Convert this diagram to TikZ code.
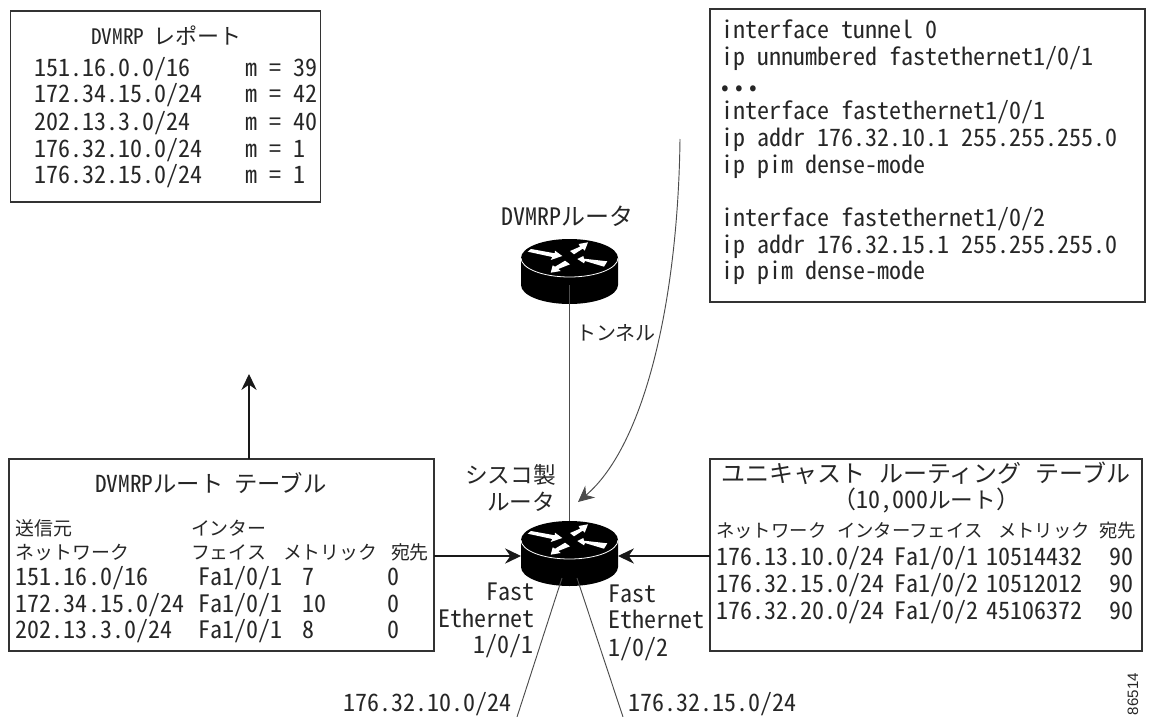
\documentclass[tikz,border=0pt]{standalone}
\usepackage{fontspec}
\usetikzlibrary{arrows.meta}
\newfontfamily\jpf{Noto Sans CJK JP}
\newfontfamily\hwf[RawFeature=+hwid]{Noto Sans CJK JP}
\newfontfamily\numf{Liberation Sans}
\newcommand{\J}[1]{{\jpf #1}}
\tikzset{
  x=0.75pt,y=-0.75pt,
  box/.style={draw=black!80,line width=1.1pt,inner sep=0pt,outer sep=0pt},
  lbl/.style={anchor=base west,inner sep=0pt,outer sep=0pt,font=\fontsize{18}{20}\hwf,text=black!85},
  rlbl/.style={lbl,anchor=base east},
  ttl/.style={lbl,font=\fontsize{17.5}{20}\hwf},
  sm/.style={lbl,font=\fontsize{14.2}{16}\jpf},
  smb/.style={lbl,font=\fontsize{13.8}{16}\jpf},
  conn/.style={draw=black!70,line width=0.7pt},
  arr/.style={draw=black!90,line width=0.8pt,-{Stealth[length=12pt,width=11.5pt,inset=4pt]}},
  routerbox/.style={inner sep=0pt,outer sep=0pt,minimum width=72.75pt,minimum height=48.75pt},
}
% #1 = name, #2 = x centre, #3 = y centre of the top ellipse
\newcommand{\router}[3]{%
  \begin{scope}[shift={(#2,#3)}]
  \fill[black] (-48.5,0) -- (-48.5,27) arc[x radius=48.5,y radius=-19,start angle=180,end angle=360] -- (48.5,0) -- cycle;
  \fill[black] (0,0) ellipse[x radius=48.5,y radius=19];
  \draw[white,line width=0.6pt] (-48.5,0) arc[x radius=48.5,y radius=-19,start angle=180,end angle=360];
  \fill[white] (-38.5,-9) -- (-14.8,-4.7) -- (-14.5,-7.3) -- (-7.2,-2) -- (-18.8,2) -- (-17.2,-1) -- (-41.8,-6.3) -- cycle;
  \fill[white] (18.5,-15.7) -- (9.2,-14) -- (10.5,-11.3) -- (.5,-7) -- (4.5,-3.7) -- (13.2,-9.3) -- (15.2,-7.3) -- cycle;
  \fill[white] (7.8,1) -- (13.8,-2) -- (14.5,.7) -- (37.8,3.3) -- (34.5,8.7) -- (15.5,3) -- (14.5,5.3) -- cycle;
  \fill[white] (-18.8,14.7) -- (-16.8,7.3) -- (-14.5,8.7) -- (-4.5,2.7) -- (.5,6.3) -- (-11.2,11) -- (-8.8,13) -- cycle;
  \node[routerbox] (#1) at (0,13.5) {};
  \end{scope}}
\begin{document}
\begin{tikzpicture}
\useasboundingbox[fill=white] (0,0) rectangle (1149,717);
\router{dvr}{569.5}{258}
\router{cis}{569.5}{540}
% boxes
\node[box,minimum width=232.5pt,minimum height=143.25pt] (report) at (165.5,106.5) {};
\node[box,minimum width=326.25pt,minimum height=219.75pt] (config) at (927.5,155.5) {};
\node[box,minimum width=318.75pt,minimum height=144pt] (rtbl) at (221.5,555) {};
\node[box,minimum width=324pt,minimum height=144pt] (utbl) at (926,555) {};
% connector ends
\coordinate (bl) at (rtbl.east |- 0,556);
\coordinate (l1) at (cis.west |- bl);
\coordinate (br) at (utbl.west |- 0,556);
\coordinate (r1) at (cis.east |- br);
\coordinate (up0) at (249,459);
\coordinate (up1) at (249,374);
\coordinate (c0) at (680,139);
\coordinate (c1) at (578,502);
\coordinate (e1) at (562,578);
\coordinate (e1b) at (517,717);
\coordinate (e2) at (577,578);
\coordinate (e2b) at (623,717);
\coordinate (dvb) at (569.5,285);
\draw[conn] (dvb) -- (cis.north);
\draw[arr] (bl) -- (l1);
\draw[arr] (br) -- (r1);
\draw[arr] (up0) -- (up1);
\draw[conn,-{Stealth[length=12pt,width=11.5pt,inset=4pt]}] (c0) .. controls (678,300) and (645,445) .. (c1);
\draw[conn] (e1) -- (e1b);
\draw[conn] (e2) -- (e2b);
% report
\node[lbl,font=\fontsize{16}{20}\hwf] (r0) at (91,45) {DVMRP\hspace{7pt}{\jpf\fontsize{16.5}{20}\selectfont レポート}};
\node[lbl] (r1a) at (34,77) {151.16.0.0/16}; \node[lbl] (r1b) at (245,77) {m = 39};
\node[lbl] (r2a) at (34,103) {172.34.15.0/24}; \node[lbl] (r2b) at (245,103) {m = 42};
\node[lbl] (r3a) at (34,130) {202.13.3.0/24}; \node[lbl] (r3b) at (245,130) {m = 40};
\node[lbl] (r4a) at (34,157) {176.32.10.0/24}; \node[lbl] (r4b) at (245,157) {m = 1};
\node[lbl] (r5a) at (34,183) {176.32.15.0/24}; \node[lbl] (r5b) at (245,183) {m = 1};
% config
\node[lbl] (c1t) at (721,39) {interface tunnel 0};
\node[lbl] (c2t) at (721,66) {ip unnumbered fastethernet1/0/1};
\node[lbl,font=\fontsize{17}{18}\jpf] (c3t) at (718.7,95) {\makebox[10.5pt]{•}\makebox[10.5pt]{•}\makebox[10.5pt]{•}};
\node[lbl] (c4t) at (721,119) {interface fastethernet1/0/1};
\node[lbl] (c5t) at (721,146) {ip addr 176.32.10.1 255.255.255.0};
\node[lbl] (c6t) at (721,173) {ip pim dense-mode};
\node[lbl] (c7t) at (721,226) {interface fastethernet1/0/2};
\node[lbl] (c8t) at (721,253) {ip addr 176.32.15.1 255.255.255.0};
\node[lbl] (c9t) at (721,279) {ip pim dense-mode};
% router labels
\node[lbl] (dvl) at (501,225) {DVMRP\J{ルータ}};
\node[lbl,font=\fontsize{15}{16}\jpf] (tun) at (576,340) {トンネル};
\node[lbl,font=\fontsize{17}{20}\jpf] (cl1) at (465,483) {シスコ製};
\node[lbl,font=\fontsize{17}{20}\jpf] (cl2) at (487,510) {ルータ};
% route table
\node[ttl] (rt0) at (95,492) {DVMRP{\jpf ルート}\hspace{8.5pt}{\jpf テーブル}};
\node[sm] (h1) at (16,535) {送信元};
\node[sm] (h2) at (191,535) {インター};
\node[sm] (h3) at (16,559) {ネットワーク};
\node[sm] (h4) at (191,559) {フェイス};
\node[sm] (h5) at (283,559) {メトリック};
\node[sm] (h6) at (391,559) {宛先};
\node[lbl] (a1) at (16,585) {151.16.0/16}; \node[lbl] (a2) at (198,585) {Fa1/0/1}; \node[lbl] (a3) at (302,585) {7}; \node[lbl] (a4) at (387,585) {0};
\node[lbl] (b1) at (16,612) {172.34.15.0/24}; \node[lbl] (b2) at (198,612) {Fa1/0/1}; \node[lbl] (b3) at (302,612) {10}; \node[lbl] (b4) at (387,612) {0};
\node[lbl] (d1) at (16,638) {202.13.3.0/24}; \node[lbl] (d2) at (198,638) {Fa1/0/1}; \node[lbl] (d3) at (302,638) {8}; \node[lbl] (d4) at (387,638) {0};
% interface labels
\node[rlbl] (f1) at (534,600) {Fast};
\node[rlbl] (f2) at (534,627) {Ethernet};
\node[rlbl] (f3) at (533,653) {1/0/1};
\node[lbl] (g1) at (608,602) {Fast};
\node[lbl] (g2) at (608,628) {Ethernet};
\node[lbl] (g3) at (608,656) {1/0/2};
\node[lbl] (n1) at (343,711) {176.32.10.0/24};
\node[lbl] (n2) at (628,711) {176.32.15.0/24};
% unicast
\node[lbl] (u0) at (721,482) {\J{ユニキャスト}\hspace{10.5pt}\J{ルーティング}\hspace{10.5pt}\J{テーブル}};
\node[lbl] (u00) at (832,508) {\J{（}10,000{\jpf\fontsize{17}{20}\selectfont ルート}\J{）}};
\node[smb] (v1) at (716,537) {ネットワーク};
\node[smb] (v2) at (837,537) {インターフェイス};
\node[smb] (v3) at (998,537) {メトリック};
\node[smb] (v4) at (1099,537) {宛先};
\node[lbl] (w1) at (716,565) {176.13.10.0/24}; \node[lbl] (w2) at (894,565) {Fa1/0/1}; \node[lbl] (w3) at (986,565) {10514432}; \node[lbl] (w4) at (1109,565) {90};
\node[lbl] (x1) at (716,592) {176.32.15.0/24}; \node[lbl] (x2) at (894,592) {Fa1/0/2}; \node[lbl] (x3) at (986,592) {10512012}; \node[lbl] (x4) at (1109,592) {90};
\node[lbl] (y1) at (716,619) {176.32.20.0/24}; \node[lbl] (y2) at (894,619) {Fa1/0/2}; \node[lbl] (y3) at (986,619) {45106372}; \node[lbl] (y4) at (1109,619) {90};
\node[lbl,rotate=90,font=\fontsize{11.3}{13}\numf] (fig) at (1138,715) {86514};
\end{tikzpicture}
\end{document}
